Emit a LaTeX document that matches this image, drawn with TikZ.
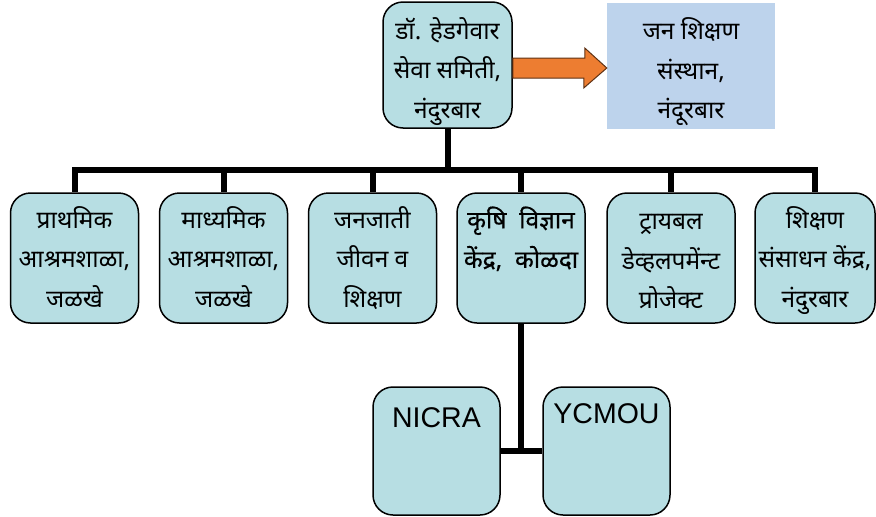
\documentclass[tikz,border=0pt]{standalone}
\usepackage{fontspec}
\setmainfont[Script=Devanagari]{Noto Sans}
\newfontfamily\devbold[Script=Devanagari,FakeBold=0.5]{Noto Sans}
\newfontfamily\latinfont{Liberation Sans}
\usetikzlibrary{calc}

\definecolor{unitfill}{HTML}{B7DEE3}
\definecolor{jssfill}{HTML}{BDD3EC}
\definecolor{arrowfill}{HTML}{ED7D31}

\tikzset{
  unit/.style={draw, line width=1.5pt, rounded corners=20pt, fill=unitfill,
    minimum width=128pt, minimum height=130pt, inner sep=0pt},
  unittext/.style={anchor=north, align=center, inner sep=0pt, yshift=-14pt,
    font=\fontsize{24.5}{39.5}\selectfont},
  link/.style={line width=6pt},
}

\begin{document}
\begin{tikzpicture}[x=1pt, y=-1pt]

  \useasboundingbox (0,0) rectangle (876,517);

  % Head office and its partner
  \node[unit, minimum width=129pt, minimum height=126pt,
    label={[unittext, yshift=-2pt]north:{डॉ. हेडगेवार\\सेवा समिती,\\नंदुरबार}}] (head) at (447.5,65) {};
  \node[fill=jssfill, minimum width=168pt, minimum height=126pt, inner sep=0pt,
    label={[unittext, yshift=-1pt]north:{जन शिक्षण\\संस्थान,\\नंदूरबार}}] (jss) at (691,66) {};

  % Fat orange arrow
  \draw[arrowfill!40!black, line width=1pt, fill=arrowfill]
    ($(head.east)+(0,-7)$) -- ++(72,0) -- ++(0,-10) -- ($(jss.west)+(0,2)$)
    -- ($(head.east)+(71,23)$) -- ++(0,-10) -- ($(head.east)+(0,13)$) -- cycle;

  % Units
  \node[unit, label={[unittext]north:{प्राथमिक\\आश्रमशाळा,\\जळखे}}] (k1) at (74.5,258) {};
  \node[unit, label={[unittext]north:{माध्यमिक\\आश्रमशाळा,\\जळखे}}] (k2) at (223.5,258) {};
  \node[unit, label={[unittext]north:{जनजाती\\जीवन व\\शिक्षण}}] (k3) at (372.5,258) {};
  \node[unit, label={[unittext]north:{\devbold कृषि~ विज्ञान\\\devbold केंद्र,~ कोळदा}}] (k4) at (521,258) {};
  \node[unit, label={[unittext, yshift=-8pt]north:{ट्रायबल\\डेव्हलपमेंन्ट\\प्रोजेक्ट}}] (k5) at (671,258) {};
  \node[unit, minimum width=120pt, label={[unittext]north:{शिक्षण\\संसाधन केंद्र,\\नंदुरबार}}] (k6) at (815,258) {};

  % Bus
  \coordinate (bus) at (447.5,170);
  \draw[link] (head.south) -- (bus);
  \foreach \k in {k1,k2,k3,k4,k5,k6}
    \draw[link] (bus) -| (\k.north);

  % Projects under KVK
  \node[unit, minimum width=127pt, minimum height=128pt,
    label={[anchor=north, inner sep=0pt, yshift=-21pt, font=\latinfont\fontsize{28.5}{30}\selectfont]north:NICRA}] (nicra) at (436.5,451) {};
  \node[unit, minimum width=127pt, minimum height=128pt,
    label={[anchor=north, inner sep=0pt, yshift=-17pt, font=\latinfont\fontsize{28.5}{30}\selectfont]north:YCMOU}] (ycmou) at (606.5,451) {};
  \coordinate (fork) at (k4.south |- nicra.east);
  \draw[link] (k4.south) -- (fork);
  \draw[link] (nicra.east) -- (ycmou.west);

\end{tikzpicture}
\end{document}
